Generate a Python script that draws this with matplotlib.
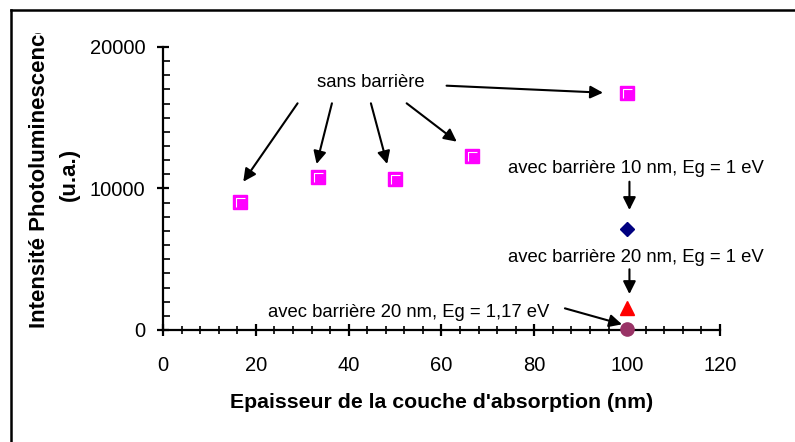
import numpy as np
import matplotlib.pyplot as plt
from matplotlib.lines import Line2D
from matplotlib.patches import Rectangle
from matplotlib.path import Path

plt.rcParams['font.family'] = ['Liberation Sans', 'DejaVu Sans']

# sans barriere series
x_sans = [16.67, 33.33, 50.0, 66.67, 100.0]
y_sans = [9070, 10790, 10670, 12320, 16730]
# avec barriere series (all at 100 nm)
x_b10 = [100.0]
y_b10 = [7120]
x_b20 = [100.0]
y_b20 = [1550]
x_b20e = [100.0]
y_b20e = [100]

fig = plt.figure(figsize=(7.95, 4.42), dpi=100)
ax = fig.add_axes([0.205, 0.2534, 0.7006, 0.6403])

# little white corner on the square markers
corner = Path([(-0.45, -0.55), (-0.45, 0.45), (0.55, 0.45)],
              [Path.MOVETO, Path.LINETO, Path.LINETO])

ax.plot(x_sans, y_sans, 's', color='#FF00FF', markersize=9.5, markeredgecolor='#FF00FF', clip_on=False, zorder=3)
ax.plot(x_sans, y_sans, marker=corner, linestyle='none', markersize=7, markerfacecolor='none',
        markeredgecolor='white', markeredgewidth=0.8, clip_on=False, zorder=4)
ax.plot(x_b10, y_b10, 'D', color='#000080', markersize=7.5, clip_on=False, zorder=3)
ax.plot(x_b20, y_b20, '^', color='#FF0000', markersize=9.5, clip_on=False, zorder=3)
ax.plot(x_b20e, y_b20e, 'o', color='#993366', markersize=9.5, clip_on=False, zorder=3)

ax.set_xlim(0, 120)
ax.set_ylim(0, 20000)
ax.set_xticks(np.arange(0, 121, 20))
ax.set_xticks(np.arange(0, 121, 4), minor=True)
ax.set_yticks([0, 10000, 20000])
ax.set_yticks(np.arange(0, 20001, 1000), minor=True)

for s in ['top', 'right']:
    ax.spines[s].set_visible(False)
for s in ['left', 'bottom']:
    ax.spines[s].set_linewidth(1.6)

ax.tick_params(axis='x', which='major', direction='inout', length=9, width=1.6, labelsize=14.5, pad=14)
ax.tick_params(axis='x', which='minor', direction='inout', length=6, width=1.2)
ax.tick_params(axis='y', which='major', direction='inout', length=9, width=1.6, labelsize=14.5, pad=8)
ax.tick_params(axis='y', which='minor', direction='in', length=5, width=1.2)

ax.set_xlabel("Epaisseur de la couche d'absorption (nm)", fontsize=15.3, fontweight='bold', labelpad=13)

ylab = fig.text(0.068, 0.605, 'Intensité Photoluminescence\n(u.a.)', rotation=90,
                ha='center', va='center', fontsize=16, fontweight='bold',
                multialignment='center', linespacing=1.55)
clip = Rectangle((0, 0), 1, 0.925, transform=fig.transFigure, facecolor='none')
ylab.set_clip_path(clip)

arrow = dict(arrowstyle='-|>', color='black', lw=1.5, mutation_scale=19, shrinkA=0, shrinkB=0)
fs = 13.3

ax.text(44.8, 17480, 'sans barrière', ha='center', va='center', fontsize=fs)
sans_tails = [(29.0, 16020), (36.4, 16020), (44.8, 16020), (52.5, 16020), (61.1, 17265)]
sans_heads = [(17.3, 10480), (33.1, 11730), (48.3, 11730), (63.3, 13310), (94.8, 16770)]
for t, h in zip(sans_tails, sans_heads):
    ax.annotate('', xy=h, xytext=t, arrowprops=arrow, annotation_clip=False)

ax.text(101.8, 11430, 'avec barrière 10 nm, Eg = 1 eV', ha='center', va='center', fontsize=fs)
ax.annotate('', xy=(100.5, 8480), xytext=(100.5, 10480), arrowprops=arrow, annotation_clip=False)

ax.text(101.8, 5140, 'avec barrière 20 nm, Eg = 1 eV', ha='center', va='center', fontsize=fs)
ax.annotate('', xy=(100.5, 2540), xytext=(100.5, 4290), arrowprops=arrow, annotation_clip=False)

ax.text(53.0, 1250, 'avec barrière 20 nm, Eg = 1,17 eV', ha='center', va='center', fontsize=fs)
ax.annotate('', xy=(98.9, 400), xytext=(86.6, 1530), arrowprops=arrow, annotation_clip=False)

# chart frame (left and top edges)
fig.add_artist(Line2D([11 / 795, 11 / 795], [0, 1 - 10 / 442], transform=fig.transFigure, color='black', lw=1.8))
fig.add_artist(Line2D([11 / 795, 1], [1 - 10 / 442, 1 - 10 / 442], transform=fig.transFigure, color='black', lw=1.8))

fig.savefig('out.png', dpi=100)
